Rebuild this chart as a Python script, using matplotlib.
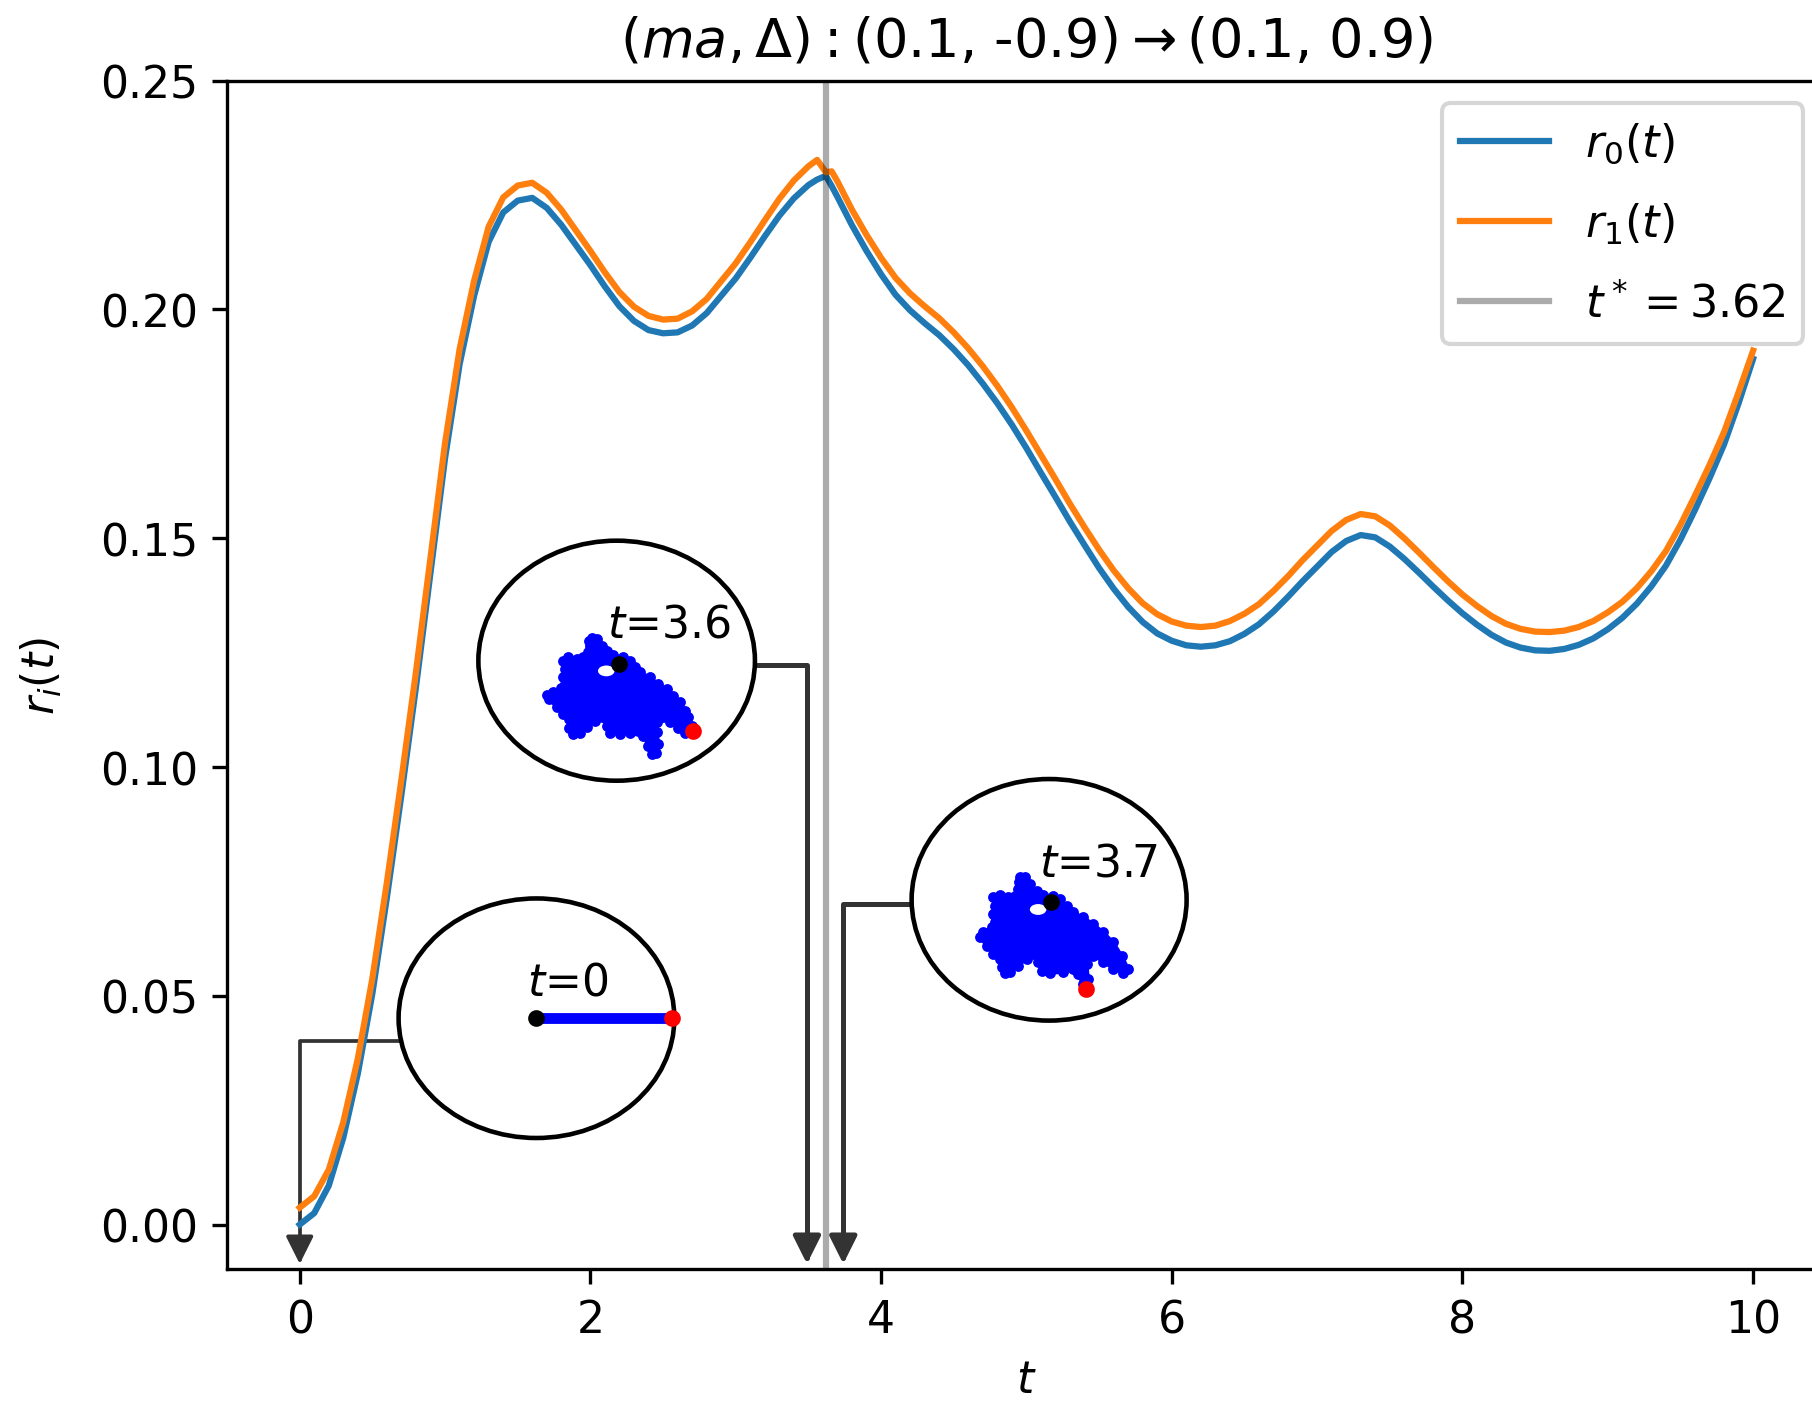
import numpy as np
import matplotlib
matplotlib.use("Agg")
import matplotlib.pyplot as plt
from matplotlib.patches import Ellipse

plt.rcParams["font.size"] = 10.6

# sample times: 0.1 steps, with extra samples around the quench time t*
t_grid = ([round(0.1 * k, 1) for k in range(0, 36)] + [3.56, 3.62, 3.66]
          + [round(0.1 * k, 1) for k in range(37, 101)])

r0 = [0.0000, 0.0025, 0.0085, 0.0190, 0.0330, 0.0505, 0.0715, 0.0940, 0.1175, 0.1425,
      0.1675, 0.1880, 0.2030, 0.2148, 0.2212, 0.2238, 0.2244, 0.2222, 0.2185, 0.2141,
      0.2097, 0.2050, 0.2007, 0.1975, 0.1955, 0.1948, 0.1950, 0.1965, 0.1992, 0.2030,
      0.2068, 0.2113, 0.2160, 0.2205, 0.2243, 0.2272,
      0.2284, 0.2292, 0.2270,
      0.2246, 0.2184, 0.2128, 0.2077, 0.2032, 0.1998, 0.1970, 0.1944, 0.1913, 0.1878,
      0.1838, 0.1795, 0.1748, 0.1697, 0.1643, 0.1590, 0.1536, 0.1485, 0.1435, 0.1390,
      0.1350, 0.1317, 0.1292, 0.1276, 0.1266, 0.1263, 0.1266, 0.1275, 0.1291, 0.1312,
      0.1340, 0.1372, 0.1406, 0.1438, 0.1470, 0.1494, 0.1507, 0.1502, 0.1482, 0.1455,
      0.1425, 0.1394, 0.1364, 0.1336, 0.1311, 0.1289, 0.1272, 0.1261, 0.1255, 0.1254,
      0.1258, 0.1267, 0.1281, 0.1301, 0.1326, 0.1357, 0.1395, 0.1440, 0.1497, 0.1562,
      0.1631, 0.1705, 0.1795, 0.1892]

r1 = [0.0037, 0.0062, 0.0120, 0.0224, 0.0363, 0.0538, 0.0748, 0.0973, 0.1208, 0.1458,
      0.1708, 0.1913, 0.2063, 0.2181, 0.2245, 0.2271, 0.2277, 0.2255, 0.2218, 0.2173,
      0.2128, 0.2081, 0.2038, 0.2006, 0.1986, 0.1978, 0.1980, 0.1996, 0.2023, 0.2062,
      0.2101, 0.2147, 0.2195, 0.2242, 0.2282, 0.2313,
      0.2327, 0.2300, 0.2302,
      0.2280, 0.2218, 0.2163, 0.2113, 0.2069, 0.2035, 0.2007, 0.1981, 0.1950, 0.1915,
      0.1876, 0.1833, 0.1786, 0.1735, 0.1682, 0.1629, 0.1575, 0.1524, 0.1475, 0.1430,
      0.1391, 0.1358, 0.1334, 0.1318, 0.1309, 0.1306, 0.1309, 0.1319, 0.1335, 0.1356,
      0.1385, 0.1417, 0.1452, 0.1484, 0.1516, 0.1540, 0.1553, 0.1548, 0.1528, 0.1500,
      0.1469, 0.1437, 0.1406, 0.1377, 0.1352, 0.1330, 0.1313, 0.1302, 0.1296, 0.1295,
      0.1298, 0.1306, 0.1319, 0.1338, 0.1361, 0.1391, 0.1428, 0.1472, 0.1529, 0.1593,
      0.1660, 0.1732, 0.1819, 0.1910]

t_star = 3.62

# chain snapshots (unit circle coordinates)
snap_labels = ["$t$=0", "$t$=3.6", "$t$=3.7"]
snap_arrow_t = [0.0, 3.49, 3.74]

chain0_u = [0.0, 0.98]
chain0_v = [0.0, 0.0]

blob36_u = [-0.181, -0.145, -0.108, -0.072, -0.024, 0.048, 0.096, 0.133, 0.169, 0.241,
            0.301, 0.361, 0.410, 0.458, 0.494, 0.518, 0.542, 0.530, 0.494, 0.446,
            0.386, 0.337, 0.289, 0.294, 0.301, 0.284, 0.253, 0.229, 0.193, 0.157,
            0.096, 0.024, -0.048, -0.072, -0.108, -0.157, -0.217, -0.265, -0.313, -0.342,
            -0.342, -0.386, -0.434, -0.487, -0.501, -0.458, -0.405, -0.373, -0.386, -0.373,
            -0.386, -0.349, -0.289, -0.241, -0.205, -0.193, -0.198]
blob36_v = [0.186, 0.181, 0.125, 0.083, 0.047, 0.028, 0.000, -0.056, -0.097, -0.139,
            -0.194, -0.236, -0.292, -0.347, -0.417, -0.472, -0.542, -0.597, -0.603, -0.564,
            -0.514, -0.472, -0.514, -0.597, -0.694, -0.769, -0.778, -0.708, -0.625, -0.583,
            -0.603, -0.611, -0.603, -0.542, -0.472, -0.500, -0.556, -0.603, -0.611, -0.564,
            -0.486, -0.444, -0.389, -0.319, -0.286, -0.258, -0.231, -0.194, -0.139, -0.069,
            0.000, 0.028, 0.014, 0.028, 0.069, 0.125, 0.167]

blob37_u = [-0.212, -0.176, -0.139, -0.091, -0.042, 0.030, 0.079, 0.127, 0.176, 0.248,
            0.321, 0.394, 0.467, 0.527, 0.576, 0.539, 0.467, 0.394, 0.321, 0.273,
            0.285, 0.273, 0.244, 0.212, 0.176, 0.103, 0.006, -0.055, -0.079, -0.115,
            -0.164, -0.224, -0.285, -0.321, -0.345, -0.358, -0.406, -0.455, -0.503, -0.479,
            -0.418, -0.394, -0.406, -0.394, -0.406, -0.358, -0.297, -0.248, -0.224, -0.217]
blob37_v = [0.186, 0.186, 0.131, 0.076, 0.040, 0.034, 0.007, -0.048, -0.103, -0.145,
            -0.200, -0.269, -0.352, -0.462, -0.572, -0.605, -0.572, -0.512, -0.462, -0.531,
            -0.655, -0.710, -0.697, -0.614, -0.572, -0.600, -0.606, -0.586, -0.517, -0.448,
            -0.490, -0.545, -0.600, -0.606, -0.559, -0.490, -0.448, -0.379, -0.310, -0.269,
            -0.228, -0.186, -0.117, -0.048, 0.021, 0.040, 0.021, 0.034, 0.090, 0.145]

start_uv = [(0.0, 0.0), (0.017, -0.028), (0.013, -0.021)]
end_uv = [(0.98, 0.0), (0.549, -0.589), (0.268, -0.738)]
hole_uv = [None, (-0.075, -0.085), (-0.080, -0.080)]

fig = plt.figure(figsize=(1812 / 300, 1402 / 300), dpi=300)
ax = fig.add_axes([0.1253, 0.0942, 0.8823, 0.8475])

ax.plot(t_grid, r0, color="tab:blue", lw=1.5, label="$r_0(t)$", zorder=2)
ax.plot(t_grid, r1, color="tab:orange", lw=1.5, label="$r_1(t)$", zorder=2)
ax.axvline(t_star, color="black", alpha=0.33, lw=1.5, label="$t^* = %.2f$" % t_star, zorder=3)

ax.set_xlim(-0.5, 10.5)
ax.set_ylim(-0.0097, 0.25)
ax.set_xlabel("$t$")
ax.set_ylabel("$r_i(t)$", labelpad=8.5)
ax.set_title(r"$(ma, \Delta):$(0.1, -0.9)$\rightarrow$(0.1, 0.9)", fontsize=13)
ax.legend(loc="upper right", fontsize=10.7, labelspacing=0.8)

# inset boxes in axes fraction, and where the connector leaves each circle
inset_boxes = [[0.1073, 0.1102, 0.1725, 0.2016],
               [0.1572, 0.4109, 0.1730, 0.2020],
               [0.4282, 0.2090, 0.1720, 0.2033]]
conn_start = [(0.1088, 0.1921), (0.3302, 0.5083), (0.4282, 0.3072)]
conn_lw = [0.9, 1.2, 1.2]
arrow_tip = -0.0086

blobs = [None, (blob36_u, blob36_v), (blob37_u, blob37_v)]

for i in range(3):
    ins = ax.inset_axes(inset_boxes[i])
    ins.set_xlim(-1, 1)
    ins.set_ylim(-1, 1)
    ins.axis("off")
    ins.patch.set_alpha(0)
    ins.add_patch(Ellipse((0.5, 0.5), 1, 1, transform=ins.transAxes, fc="white",
                          ec="black", lw=1.1, clip_on=False, zorder=0))
    if blobs[i] is None:
        ins.plot(chain0_u, chain0_v, color="blue", lw=2.6, solid_capstyle="round")
    else:
        bu, bv = blobs[i]
        ins.fill(bu, bv, color="blue", lw=0.8, joinstyle="round")
        # monomers along the outline give the ragged edge
        ins.plot(bu, bv, "o", color="blue", ms=2.6, mew=0)
        hx, hy = hole_uv[i]
        ins.add_patch(Ellipse((hx, hy), 0.12, 0.09, fc="white", ec="none", zorder=3))
    ins.plot(*start_uv[i], "o", color="black", ms=3.0, zorder=4, clip_on=False)
    ins.plot(*end_uv[i], "o", color="red", ms=3.0, zorder=4, clip_on=False)
    ins.text(-0.07, 0.2, snap_labels[i], fontsize=10.6, ha="left", va="baseline")

    ax.annotate("", xy=(snap_arrow_t[i], arrow_tip), xycoords="data",
                xytext=conn_start[i], textcoords="axes fraction",
                arrowprops=dict(arrowstyle="-|>", color="0.2", lw=conn_lw[i],
                                mutation_scale=14, shrinkA=0, shrinkB=0,
                                connectionstyle="angle,angleA=0,angleB=90,rad=0"),
                annotation_clip=False, zorder=1)

fig.savefig("out.png", dpi=300)
